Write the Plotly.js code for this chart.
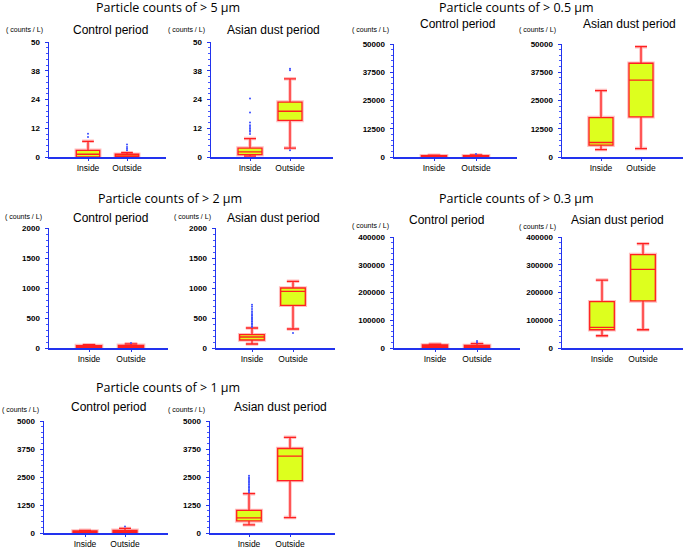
<!DOCTYPE html>
<html>
<head>
<meta charset="utf-8">
<script src="https://cdn.plot.ly/plotly-3.0.1.min.js"></script>
<style>
  body { margin: 0; background: #fff; }
  #chart { width: 685px; height: 548px; }
</style>
</head>
<body>
<div id="chart"></div>
<script>
// box stats per group: [lower whisker, q1, median, q3, upper whisker]
const groups = ['Inside', 'Outside'];

const ctrl5 = { inside: [0, 0, 1.2, 2.9, 6.8], outside: [0, 0, 0.5, 1.2, 1.9] };
const dust5 = { inside: [0.4, 1.0, 2.2, 3.9, 8.0], outside: [3.9, 15.9, 19.9, 23.9, 34] };
const ctrl5Pts = { inside: [8.7, 10.1], outside: [2.9, 3.6, 4.3, 5.4] };
const dust5Pts = { inside: [10, 11, 11.6, 12.3, 13, 13.8, 15, 19.3, 25.4], outside: [2.9, 37.7, 38.4] };

const ctrl05 = { inside: [0, 100, 300, 600, 800], outside: [0, 100, 300, 600, 900] };
const dust05 = { inside: [3280, 5220, 6420, 17460, 29400], outside: [3730, 17760, 34030, 41490, 48800] };
const ctrl05Pts = { inside: [], outside: [1300] };
const dust05Pts = { inside: [], outside: [] };

const ctrl2 = { inside: [0, 10, 25, 40, 55], outside: [0, 10, 25, 45, 70] };
const dust2 = { inside: [67, 133, 183, 222, 333], outside: [317, 711, 944, 1000, 1111] };
const ctrl2Pts = { inside: [], outside: [85] };
const dust2Pts = { inside: [352, 368, 395, 412, 436, 451, 474, 497, 512, 538, 556, 583, 612, 648, 689, 722], outside: [250] };

const ctrl03 = { inside: [0, 2000, 7000, 11000, 14000], outside: [0, 1500, 5000, 9000, 16000] };
const dust03 = { inside: [44200, 65700, 74000, 167000, 244800], outside: [65700, 169500, 283000, 336700, 376000] };
const ctrl03Pts = { inside: [], outside: [20000, 25000] };
const dust03Pts = { inside: [], outside: [] };

const ctrl1 = { inside: [0, 20, 50, 90, 118], outside: [0, 30, 70, 120, 206] };
const dust1 = { inside: [365, 541, 673, 1009, 1754], outside: [687, 2339, 3436, 3772, 4269] };
const ctrl1Pts = { inside: [], outside: [294] };
const dust1Pts = { inside: [1810, 1870, 1905, 1960, 2030, 2070, 2140, 2190, 2260, 2310, 2370, 2420, 2480, 2558], outside: [] };

const ticks5 = ['0', '12', '24', '38', '50'];
const ticks05 = ['0', '12500', '25000', '37500', '50000'];
const ticks2 = ['0', '500', '1000', '1500', '2000'];
const ticks03 = ['0', '100000', '200000', '300000', '400000'];
const ticks1 = ['0', '1250', '2500', '3750', '5000'];

const mainTitles = ['Particle counts of > 5 µm', 'Particle counts of > 0.5 µm', 'Particle counts of > 2 µm',
    'Particle counts of > 0.3 µm', 'Particle counts of > 1 µm'];
const periods = ['Control period', 'Asian dust period'];
const unitLabel = '( counts / L)';

const W = 685, H = 548;
function fx(px) { return px / W; }
function fy(py) { return 1 - py / H; }

// pixel boxes of each panel: axis left/right, top/bottom, category centres
const panels = [
    { box: ctrl5, pts: ctrl5Pts, max: 50, tt: ticks5, x0: 49, x1: 166, y0: 42, y1: 157, c: [88, 127], sub: [110, 30, 0], unit: [25, 30] },
    { box: dust5, pts: dust5Pts, max: 50, tt: ticks5, x0: 211, x1: 333, y0: 42, y1: 157, c: [250, 290], sub: [273, 30, 1], unit: [186, 30] },
    { box: ctrl05, pts: ctrl05Pts, max: 50000, tt: ticks05, x0: 394, x1: 517, y0: 44, y1: 157, c: [434, 476], sub: [457, 24, 0], unit: [370, 30] },
    { box: dust05, pts: dust05Pts, max: 50000, tt: ticks05, x0: 562, x1: 683, y0: 44, y1: 157, c: [601, 641], sub: [629, 24, 1], unit: [537, 30] },
    { box: ctrl2, pts: ctrl2Pts, max: 2000, tt: ticks2, x0: 49, x1: 168, y0: 228, y1: 348, c: [89, 131], sub: [110, 218, 0], unit: [23, 217] },
    { box: dust2, pts: dust2Pts, max: 2000, tt: ticks2, x0: 216, x1: 335, y0: 228, y1: 348, c: [252, 293], sub: [273, 218, 1], unit: [192, 217] },
    { box: ctrl03, pts: ctrl03Pts, max: 400000, tt: ticks03, x0: 394, x1: 520, y0: 237, y1: 348, c: [435, 477], sub: [447, 220, 0], unit: [370, 226] },
    { box: dust03, pts: dust03Pts, max: 400000, tt: ticks03, x0: 562, x1: 683, y0: 237, y1: 348, c: [602, 643], sub: [617, 220, 1], unit: [537, 227] },
    { box: ctrl1, pts: ctrl1Pts, max: 5000, tt: ticks1, x0: 44, x1: 168, y0: 421, y1: 533, c: [85, 125], sub: [108, 407, 0], unit: [20, 410] },
    { box: dust1, pts: dust1Pts, max: 5000, tt: ticks1, x0: 210, x1: 335, y0: 421, y1: 533, c: [249, 290], sub: [280, 407, 1], unit: [187, 410] },
];

const titlePos = [[168, 8], [516, 8], [170, 198], [516, 198], [168, 387]];

const traces = [];
const layout = {
    width: W, height: H,
    margin: { l: 0, r: 0, t: 0, b: 0 },
    paper_bgcolor: '#ffffff',
    plot_bgcolor: 'rgba(0,0,0,0)',
    showlegend: false,
    font: { family: 'Liberation Sans, Arial, sans-serif', color: '#000' },
    annotations: [],
};

panels.forEach((p, i) => {
    const n = i + 1;
    const xa = 'x' + (n === 1 ? '' : n);
    const ya = 'y' + (n === 1 ? '' : n);
    const col = (k) => [p.box.inside[k], p.box.outside[k]];

    // soft pink halo under the box, then the box itself
    [{ c: 'rgba(255,110,110,0.45)', w: 3.5 }, { c: '#ff2020', w: 1.3 }].forEach(st => {
        traces.push({
            type: 'box',
            x: groups,
            lowerfence: col(0),
            q1: col(1),
            median: col(2),
            q3: col(3),
            upperfence: col(4),
            width: 0.6,
            whiskerwidth: 0.5,
            fillcolor: '#ddff1e',
            line: { color: st.c, width: st.w },
            boxpoints: false,
            hoverinfo: 'skip',
            xaxis: xa, yaxis: ya,
        });
    });

    const px = [], py = [];
    p.pts.inside.forEach(v => { px.push(groups[0]); py.push(v); });
    p.pts.outside.forEach(v => { px.push(groups[1]); py.push(v); });
    traces.push({
        type: 'scatter', mode: 'markers',
        x: px, y: py,
        marker: { color: '#3a4cff', size: 2 },
        hoverinfo: 'skip',
        xaxis: xa, yaxis: ya,
    });

    const sp = p.c[1] - p.c[0];
    layout['xaxis' + (n === 1 ? '' : n)] = {
        domain: [fx(p.x0), fx(p.x1)],
        anchor: ya,
        type: 'category',
        categoryorder: 'array',
        categoryarray: groups,
        range: [(p.x0 - p.c[0]) / sp, (p.x1 - p.c[0]) / sp],
        showgrid: false, zeroline: false,
        showline: true, linecolor: '#2233ee', linewidth: 1.5,
        ticks: 'outside', ticklen: 2, tickcolor: '#2233ee',
        tickfont: { size: 8.5, color: '#000' },
        fixedrange: true,
    };
    layout['yaxis' + (n === 1 ? '' : n)] = {
        domain: [fy(p.y1), fy(p.y0)],
        anchor: xa,
        range: [0, p.max],
        tickvals: p.tt.map((t, k) => k * p.max / 4),
        ticktext: p.tt,
        showgrid: false, zeroline: false,
        showline: true, linecolor: '#2233ee', linewidth: 1.5,
        ticks: 'outside', ticklen: 3, tickcolor: '#2233ee',
        minor: { ticks: 'outside', ticklen: 2, tickcolor: '#4455ff', dtick: p.max / 20 },
        tickfont: { size: 8, color: '#000', weight: 'bold' },
        ticklabelstandoff: 3,
        fixedrange: true,
    };

    layout.annotations.push({
        xref: 'paper', yref: 'paper', x: fx(p.sub[0]), y: fy(p.sub[1]),
        xanchor: 'center', yanchor: 'middle', showarrow: false,
        text: periods[p.sub[2]],
        font: { size: 12, family: 'Liberation Sans, Arial, sans-serif', color: '#000' },
    });
    layout.annotations.push({
        xref: 'paper', yref: 'paper', x: fx(p.unit[0]), y: fy(p.unit[1]),
        xanchor: 'center', yanchor: 'middle', showarrow: false,
        text: unitLabel,
        font: { size: 7, family: 'Liberation Sans, Arial, sans-serif', color: '#000' },
    });
});

mainTitles.forEach((t, i) => {
    layout.annotations.push({
        xref: 'paper', yref: 'paper', x: fx(titlePos[i][0]), y: fy(titlePos[i][1]),
        xanchor: 'center', yanchor: 'middle', showarrow: false,
        text: t,
        font: { size: 12.5, family: 'Open Sans, sans-serif', color: '#000' },
    });
});

Plotly.newPlot('chart', traces, layout, { displayModeBar: false, staticPlot: true });
</script>
</body>
</html>
